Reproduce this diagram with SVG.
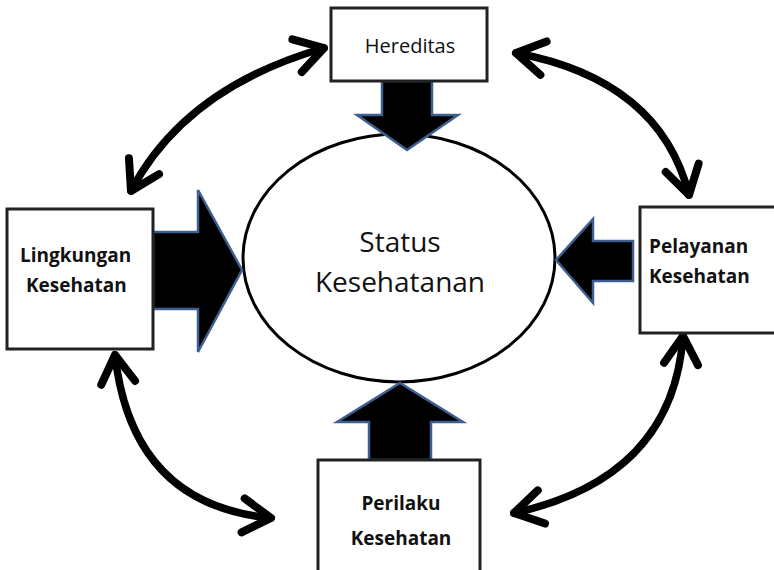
<svg xmlns="http://www.w3.org/2000/svg" width="774" height="570" viewBox="0 0 774 570">
<style>
.box{fill:#fff;stroke:#222;stroke-width:3}
.bigarrow{fill:#000;stroke:#3f5f8f;stroke-width:2.5;stroke-linejoin:miter}
.curve{fill:none;stroke:#000;stroke-width:7.5;stroke-linecap:round}
.lbl{font-family:"Open Sans","Liberation Sans",sans-serif;font-weight:700;font-size:19px;fill:#111}
.lblr{font-family:"Open Sans","Liberation Sans",sans-serif;font-size:20px;fill:#111}
.main{font-family:"Open Sans","Liberation Sans",sans-serif;font-size:28px;fill:#111}
</style>
<defs>
<marker id="chev" markerUnits="userSpaceOnUse" viewBox="-40 -25 50 50" refX="0" refY="0" markerWidth="50" markerHeight="50" orient="auto-start-reverse">
<path d="M -28 -17 L 0 0 L -28 17" fill="none" stroke="#000" stroke-width="8" stroke-linecap="round" stroke-linejoin="round"/>
</marker>
</defs>
<g id="status">
<ellipse cx="399" cy="258" rx="156" ry="124" fill="#fff" stroke="#000" stroke-width="3"/>
<text class="main" x="400" y="252" text-anchor="middle">Status</text>
<text class="main" x="400" y="292" text-anchor="middle">Kesehatanan</text>
</g>
<g id="connectors">
<path class="curve" d="M 324 48 Q 185 88 131 191" marker-start="url(#chev)" marker-end="url(#chev)"/>
<path class="curve" d="M 516 53 Q 660 80 689 195" marker-start="url(#chev)" marker-end="url(#chev)"/>
<path class="curve" d="M 115 355 Q 132 505 271 518" marker-start="url(#chev)" marker-end="url(#chev)"/>
<path class="curve" d="M 683 336 Q 673 478 514 513" marker-start="url(#chev)" marker-end="url(#chev)"/>
<polygon class="bigarrow" points="382,81 432,81 432,115 458,115 407,150 357,115 382,115"/>
<polygon class="bigarrow" points="153,232 198,232 198,190 242,270 198,352 198,309 153,309"/>
<polygon class="bigarrow" points="633,241 593,241 593,219 556,260 593,303 593,281 633,281"/>
<polygon class="bigarrow" points="369,460 369,422 337,422 400,383 463,422 431,422 431,460"/>
</g>
<g id="hereditas">
<rect class="box" x="331" y="8" width="156" height="73"/>
<text class="lblr" x="410" y="53" text-anchor="middle">Hereditas</text>
</g>
<g id="lingkungan">
<rect class="box" x="7" y="209" width="146" height="140"/>
<text class="lbl" x="20" y="262">Lingkungan</text>
<text class="lbl" x="26" y="292">Kesehatan</text>
</g>
<g id="pelayanan">
<rect class="box" x="640" y="207" width="145" height="126"/>
<text class="lbl" x="649" y="253">Pelayanan</text>
<text class="lbl" x="649" y="283">Kesehatan</text>
</g>
<g id="perilaku">
<rect class="box" x="318" y="460" width="162" height="120"/>
<text class="lbl" x="401" y="510" text-anchor="middle">Perilaku</text>
<text class="lbl" x="401" y="545" text-anchor="middle">Kesehatan</text>
</g>
</svg>
